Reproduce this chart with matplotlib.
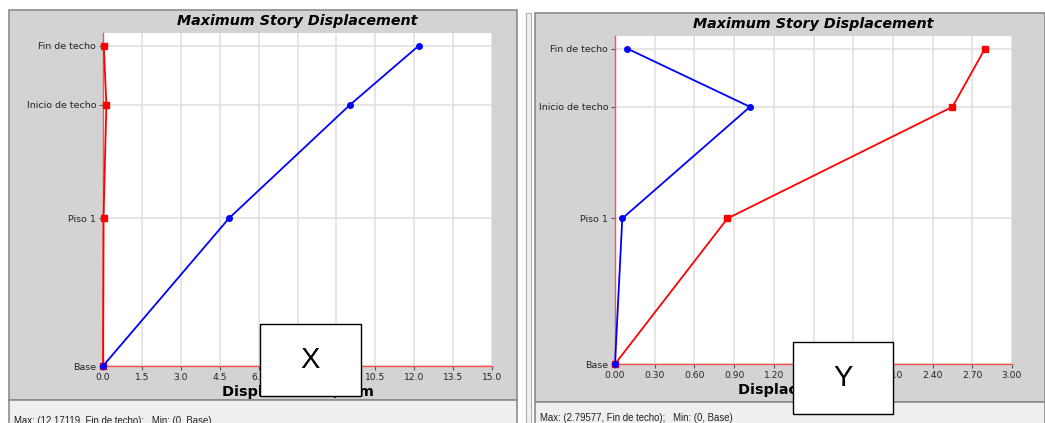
import matplotlib
matplotlib.use('Agg')
import numpy as np
from matplotlib import pyplot as plt
from matplotlib.patches import Rectangle

plt.rcParams['font.family'] = ['DejaVu Sans']

# story levels (elevation used for vertical placement)
stories = ['Base', 'Piso 1', 'Inicio de techo', 'Fin de techo']
elev = [0.0, 3.0, 5.3, 6.5]

# direction X, displacement in mm
x_blue = [0.0, 4.86, 9.52, 12.17119]
x_red = [0.0, 0.02, 0.13, 0.03]
x_ticks = [0.0, 1.5, 3.0, 4.5, 6.0, 7.5, 9.0, 10.5, 12.0, 13.5, 15.0]

# direction Y, displacement in mm
y_blue = [0.0, 0.055, 1.02, 0.093]
y_red = [0.0, 0.85, 2.55, 2.79577]
y_ticks = [0.0, 0.3, 0.6, 0.9, 1.2, 1.5, 1.8, 2.1, 2.4, 2.7, 3.0]

W, H = 1045, 423
fig = plt.figure(figsize=(W / 100, H / 100), dpi=100)
fig.patch.set_facecolor('white')


def px_rect(x0, y0, x1, y1):
    # pixel box (top-left origin) -> figure fraction rect
    return [x0 / W, 1 - y1 / H, (x1 - x0) / W, (y1 - y0) / H]


def add_box(x0, y0, x1, y1, **kw):
    l, b, w, h = px_rect(x0, y0, x1, y1)
    fig.patches.append(Rectangle((l, b), w, h, transform=fig.transFigure, **kw))


def panel(px0, py0, px1, py1, bar_y, ax_box, blue, red, ticks, fmt, max_txt, txt_y, lbl_box, letter):
    add_box(px0, py0, px1, bar_y, facecolor='#d3d3d3', edgecolor='#8c8c8c', lw=1.2, zorder=-2)
    add_box(px0, bar_y, px1, py1 + 5, facecolor='#efefef', edgecolor='#8c8c8c', lw=1.2, zorder=-2)
    fig.text((px0 + 5) / W, 1 - txt_y / H, max_txt, fontsize=6.9, color='#222222', va='center',
             family='Liberation Sans')

    ax = fig.add_axes(px_rect(*ax_box))
    ax.set_facecolor('white')
    ax.set_xlim(ticks[0], ticks[-1])
    ax.set_ylim(0, 6.76)
    ax.set_xticks(ticks)
    ax.set_xticklabels([fmt % t for t in ticks])
    ax.set_yticks(elev)
    ax.set_yticklabels(stories)
    ax.grid(True, color='#e0e0e0', lw=1.2)
    ax.set_axisbelow(True)
    for s in ['top', 'right']:
        ax.spines[s].set_visible(False)
    for s in ['left', 'bottom']:
        ax.spines[s].set_color('#ff5050')
        ax.spines[s].set_linewidth(1.0)
    ax.tick_params(axis='both', labelcolor='#222222', color='#555555', length=3, width=0.8, pad=2)
    ax.tick_params(axis='x', labelsize=6.6)
    ax.tick_params(axis='y', labelsize=6.8)
    ax.set_title('Maximum Story Displacement', fontsize=10.3, fontweight='bold', style='italic', pad=6)
    ax.set_xlabel('Displacement, mm', fontsize=10.4, fontweight='bold', labelpad=2)

    ax.plot(red, elev, color='#ff0000', lw=1.3, marker='s', ms=4, clip_on=False, zorder=3)
    ax.plot(blue, elev, color='#0000ff', lw=1.3, marker='o', ms=4, clip_on=False, zorder=4)

    bx0, by0, bx1, by1 = lbl_box
    add_box(bx0, by0, bx1, by1, facecolor='white', edgecolor='black', lw=1.0, zorder=10)
    fig.text((bx0 + bx1) / 2 / W, 1 - (by0 + by1) / 2 / H, letter, fontsize=21,
             ha='center', va='center', zorder=11, family='Liberation Sans')
    return ax


panel(9, 10, 517, 423, 400, (103, 33, 492, 366), x_blue, x_red, x_ticks, '%.1f',
      'Max: (12.17119, Fin de techo);   Min: (0, Base)', 421, (260, 324, 361, 396), 'X')
panel(535, 13, 1045, 423, 402, (615, 36, 1012, 364), y_blue, y_red, y_ticks, '%.2f',
      'Max: (2.79577, Fin de techo);   Min: (0, Base)', 418, (793, 342, 893, 414), 'Y')

# window border strip between the two screenshots
add_box(526, 13, 531, 423, facecolor='#f2f2f2', edgecolor='#b0b0b0', lw=0.8, zorder=-2)

fig.savefig('out.png', dpi=100)
